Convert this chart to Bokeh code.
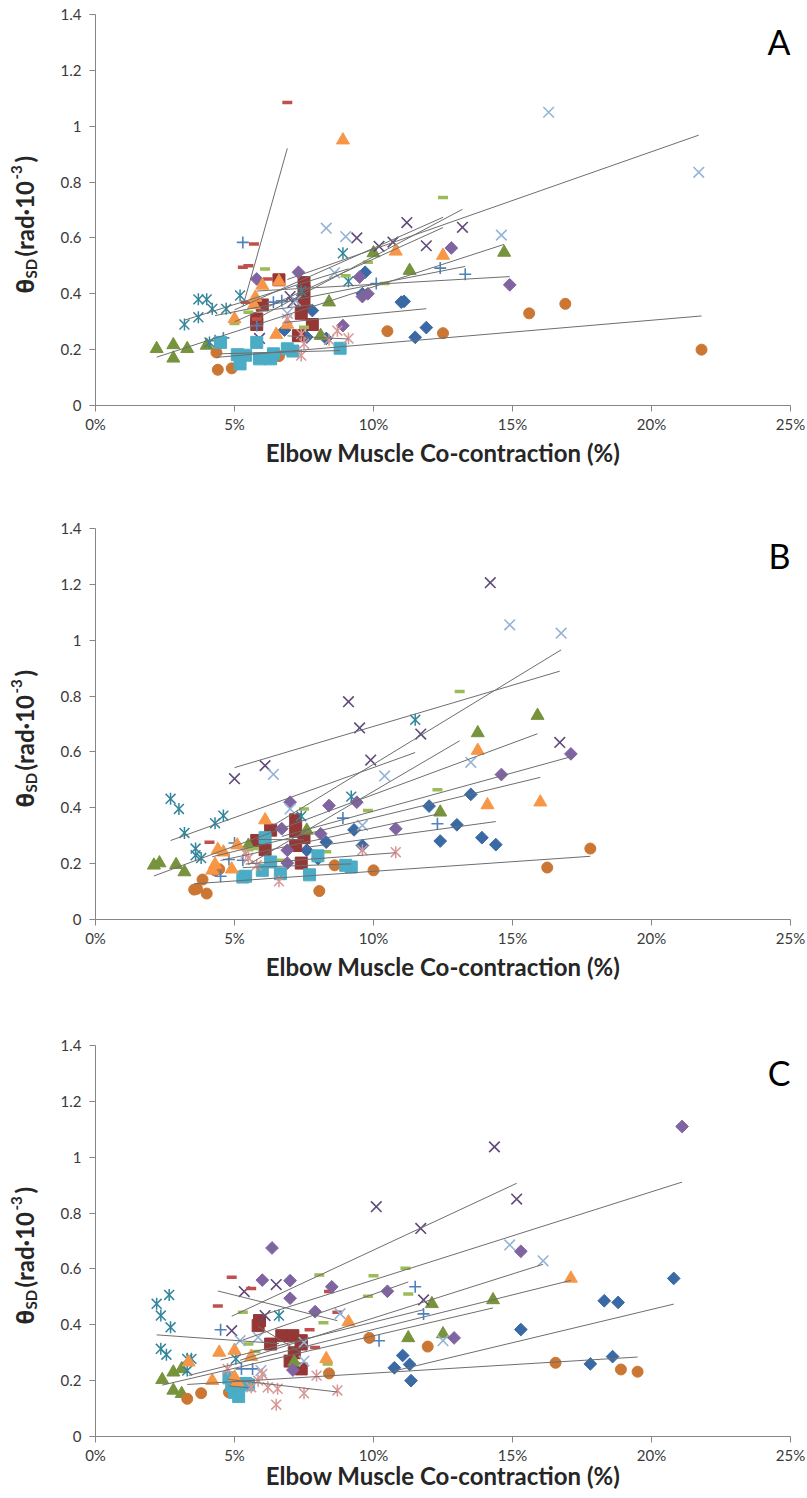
import numpy as np
from bokeh.plotting import figure
from bokeh.models import Label, Range1d, FixedTicker, PrintfTickFormatter, NumeralTickFormatter
from bokeh.core.properties import value
from bokeh.layouts import column, row
from bokeh.embed import file_html
from bokeh.resources import INLINE

# ---------------- DATA (x: co-contraction %, y: theta_SD rad*10^-3) ----------------
# Panel A
A1_x = [6.8, 7.6, 7.8, 8.3, 9.6, 9.7, 11.0, 11.1, 11.5, 11.9]
A1_y = [0.27, 0.245, 0.34, 0.24, 0.40, 0.477, 0.37, 0.373, 0.244, 0.279]
A2_x = [5.8, 5.8, 6.0, 6.6, 7.3, 7.4, 7.5, 7.5, 7.5, 7.8]
A2_y = [0.29, 0.31, 0.36, 0.45, 0.25, 0.33, 0.44, 0.41, 0.37, 0.29]
A3_x = [2.2, 2.8, 2.8, 3.3, 4.0, 8.1, 8.4, 10.0, 11.3, 14.7]
A3_y = [0.203, 0.217, 0.169, 0.203, 0.215, 0.25, 0.37, 0.546, 0.483, 0.548]
A4_x = [5.9, 7.0, 7.1, 9.4, 10.2, 10.7, 11.2, 11.9, 13.2]
A4_y = [0.24, 0.39, 0.37, 0.60, 0.57, 0.585, 0.655, 0.572, 0.638]
A5_x = [3.2, 3.7, 3.7, 4.0, 4.1, 4.2, 4.7, 5.2, 7.4, 8.9, 9.1]
A5_y = [0.29, 0.316, 0.38, 0.38, 0.226, 0.346, 0.346, 0.394, 0.41, 0.545, 0.445]
A6_x = [4.35, 4.4, 4.9, 6.6, 10.5, 12.5, 15.6, 16.9, 21.8]
A6_y = [0.19, 0.128, 0.133, 0.177, 0.266, 0.259, 0.33, 0.364, 0.20]
A7_x = [4.3, 4.6, 5.3, 5.8, 6.4, 6.7, 10.1, 12.4, 13.3]
A7_y = [0.232, 0.242, 0.584, 0.286, 0.37, 0.375, 0.437, 0.492, 0.47]
A8_x = [5.3, 5.4, 5.5, 5.7, 5.8, 6.2, 6.9]
A8_y = [0.495, 0.37, 0.50, 0.578, 0.31, 0.453, 1.085]
A9_x = [5.0, 5.5, 6.1, 7.5, 9.0, 9.8, 10.4, 12.5]
A9_y = [0.294, 0.334, 0.489, 0.28, 0.465, 0.513, 0.437, 0.745]
A10_x = [5.8, 7.3, 8.9, 9.5, 9.6, 9.8, 12.8, 14.9]
A10_y = [0.453, 0.477, 0.286, 0.46, 0.39, 0.40, 0.564, 0.432]
A11_x = [4.5, 5.1, 5.2, 5.4, 5.8, 5.9, 6.3, 6.4, 6.9, 7.1, 8.8]
A11_y = [0.226, 0.182, 0.149, 0.18, 0.226, 0.167, 0.167, 0.185, 0.203, 0.195, 0.205]
A12_x = [5.0, 5.7, 5.75, 6.0, 6.5, 6.6, 6.9, 8.9, 10.8, 12.5]
A12_y = [0.31, 0.36, 0.387, 0.43, 0.254, 0.444, 0.29, 0.95, 0.552, 0.537]
A13_x = [6.9, 7.2, 8.3, 8.6, 9.0, 14.6, 16.3, 21.7]
A13_y = [0.33, 0.375, 0.635, 0.475, 0.605, 0.61, 1.05, 0.835]
A14_x = [6.9, 7.4, 7.4, 7.5, 8.4, 8.7, 9.1]
A14_y = [0.31, 0.256, 0.179, 0.221, 0.235, 0.268, 0.24]

# Panel B
B1_x = [7.6, 8.0, 8.3, 9.3, 9.6, 12.0, 12.4, 13.0, 13.5, 13.9, 14.4]
B1_y = [0.248, 0.218, 0.277, 0.321, 0.265, 0.406, 0.281, 0.339, 0.448, 0.293, 0.268]
B2_x = [5.8, 6.1, 6.3, 7.2, 7.2, 7.2, 7.4, 7.5]
B2_y = [0.283, 0.25, 0.32, 0.357, 0.316, 0.265, 0.202, 0.293]
B3_x = [2.1, 2.3, 2.9, 3.2, 5.5, 7.6, 12.4, 13.75, 15.9]
B3_y = [0.194, 0.202, 0.196, 0.17, 0.265, 0.319, 0.384, 0.668, 0.73]
B4_x = [5.0, 6.1, 9.1, 9.5, 9.9, 11.7, 14.2, 16.7]
B4_y = [0.504, 0.551, 0.78, 0.686, 0.571, 0.664, 1.206, 0.634]
B5_x = [2.7, 3.0, 3.2, 3.6, 3.6, 3.8, 4.3, 4.6, 7.4, 9.2, 11.5]
B5_y = [0.432, 0.396, 0.31, 0.254, 0.23, 0.22, 0.345, 0.372, 0.37, 0.44, 0.715]
B6_x = [3.55, 3.65, 3.85, 4.0, 4.3, 4.45, 8.05, 8.6, 10.0, 16.25, 17.8]
B6_y = [0.107, 0.11, 0.143, 0.093, 0.176, 0.18, 0.102, 0.194, 0.176, 0.186, 0.254]
B7_x = [4.5, 4.8, 5.0, 5.3, 8.9, 12.3]
B7_y = [0.155, 0.215, 0.274, 0.212, 0.363, 0.343]
B8_x = [4.1]
B8_y = [0.277]
B9_x = [5.5, 5.7, 6.7, 7.5, 8.3, 9.8, 12.3, 13.1]
B9_y = [0.25, 0.254, 0.212, 0.396, 0.243, 0.39, 0.465, 0.816]
B10_x = [6.7, 6.9, 6.9, 7.0, 8.1, 8.4, 9.4, 10.8, 14.6, 17.1]
B10_y = [0.325, 0.248, 0.202, 0.42, 0.307, 0.408, 0.42, 0.325, 0.519, 0.593]
B11_x = [5.3, 5.4, 6.0, 6.1, 6.3, 6.65, 7.7, 8.0, 9.0, 9.2]
B11_y = [0.152, 0.155, 0.176, 0.293, 0.206, 0.164, 0.16, 0.228, 0.194, 0.188]
B12_x = [4.2, 4.3, 4.4, 4.6, 4.9, 5.1, 6.1, 13.75, 14.1, 16.0]
B12_y = [0.176, 0.197, 0.25, 0.241, 0.18, 0.266, 0.356, 0.605, 0.41, 0.42]
B13_x = [6.4, 7.0, 9.6, 10.4, 13.5, 14.9, 16.75]
B13_y = [0.52, 0.396, 0.337, 0.514, 0.563, 1.055, 1.025]
B14_x = [5.4, 5.5, 5.8, 6.6, 9.6, 10.8]
B14_y = [0.236, 0.22, 0.194, 0.137, 0.248, 0.241]

# Panel C
C1_x = [10.75, 11.05, 11.3, 11.35, 15.3, 17.8, 18.3, 18.6, 18.8, 20.8]
C1_y = [0.246, 0.29, 0.258, 0.2, 0.383, 0.26, 0.486, 0.286, 0.48, 0.566]
C2_x = [5.85, 5.9, 6.3, 6.7, 7.0, 7.1, 7.15, 7.4, 7.4, 7.4]
C2_y = [0.397, 0.415, 0.331, 0.361, 0.27, 0.361, 0.30, 0.343, 0.331, 0.242]
C3_x = [2.4, 2.8, 2.8, 3.1, 3.1, 7.15, 11.25, 12.1, 12.5, 14.3]
C3_y = [0.203, 0.23, 0.165, 0.153, 0.242, 0.266, 0.353, 0.475, 0.367, 0.489]
C4_x = [4.9, 5.35, 6.1, 6.5, 10.1, 11.7, 11.8, 14.35, 15.15]
C4_y = [0.379, 0.519, 0.433, 0.544, 0.823, 0.745, 0.489, 1.037, 0.85]
C5_x = [2.2, 2.35, 2.35, 2.55, 2.65, 2.7, 3.3, 3.3, 3.45, 5.05, 6.6]
C5_y = [0.475, 0.433, 0.314, 0.293, 0.507, 0.391, 0.278, 0.236, 0.278, 0.278, 0.433]
C6_x = [3.3, 3.8, 4.8, 8.4, 9.85, 11.95, 16.55, 18.9, 19.5]
C6_y = [0.135, 0.155, 0.158, 0.226, 0.353, 0.322, 0.264, 0.24, 0.232]
C7_x = [4.5, 5.25, 5.65, 10.2, 11.5, 11.8]
C7_y = [0.382, 0.242, 0.242, 0.343, 0.536, 0.439]
C8_x = [4.4, 4.9, 5.6, 7.7, 7.9, 8.4, 8.7]
C8_y = [0.467, 0.57, 0.53, 0.382, 0.319, 0.519, 0.445]
C9_x = [5.3, 5.5, 5.75, 8.05, 8.2, 8.35, 9.8, 10.0, 11.15, 11.25]
C9_y = [0.445, 0.331, 0.304, 0.578, 0.407, 0.26, 0.502, 0.576, 0.602, 0.51]
C10_x = [6.0, 6.35, 7.0, 7.0, 7.1, 7.9, 8.5, 10.5, 12.9, 15.3, 21.1]
C10_y = [0.56, 0.675, 0.558, 0.495, 0.238, 0.447, 0.536, 0.52, 0.353, 0.663, 1.11]
C11_x = [4.8, 4.9, 5.0, 5.15, 5.4, 5.5]
C11_y = [0.21, 0.182, 0.158, 0.143, 0.19, 0.185]
C12_x = [3.35, 4.2, 4.45, 5.0, 5.0, 5.1, 5.6, 8.3, 9.1, 17.1]
C12_y = [0.266, 0.2, 0.301, 0.308, 0.212, 0.194, 0.286, 0.278, 0.41, 0.566]
C13_x = [5.2, 5.85, 5.95, 7.5, 7.5, 8.8, 12.5, 14.9, 16.1]
C13_y = [0.343, 0.355, 0.236, 0.337, 0.27, 0.44, 0.343, 0.686, 0.629]
C14_x = [4.75, 5.6, 5.85, 6.0, 6.2, 6.5, 6.55, 7.5, 7.95, 8.7]
C14_y = [0.242, 0.176, 0.2, 0.224, 0.176, 0.114, 0.171, 0.155, 0.218, 0.165]

X_TICKS = [0, 5, 10, 15, 20, 25]
Y_TICKS = [0, 0.2, 0.4, 0.6, 0.8, 1.0, 1.2, 1.4]
PANEL_LETTERS = ["A", "B", "C"]
X_TITLE = "Elbow Muscle Co-contraction (%)"
Y_TITLE_PARTS = ["θ", "SD", "(rad·10", "-3", ")"]

PANELS = [
    [(A1_x, A1_y), (A2_x, A2_y), (A3_x, A3_y), (A4_x, A4_y), (A5_x, A5_y), (A6_x, A6_y), (A7_x, A7_y),
     (A8_x, A8_y), (A9_x, A9_y), (A10_x, A10_y), (A11_x, A11_y), (A12_x, A12_y), (A13_x, A13_y), (A14_x, A14_y)],
    [(B1_x, B1_y), (B2_x, B2_y), (B3_x, B3_y), (B4_x, B4_y), (B5_x, B5_y), (B6_x, B6_y), (B7_x, B7_y),
     (B8_x, B8_y), (B9_x, B9_y), (B10_x, B10_y), (B11_x, B11_y), (B12_x, B12_y), (B13_x, B13_y), (B14_x, B14_y)],
    [(C1_x, C1_y), (C2_x, C2_y), (C3_x, C3_y), (C4_x, C4_y), (C5_x, C5_y), (C6_x, C6_y), (C7_x, C7_y),
     (C8_x, C8_y), (C9_x, C9_y), (C10_x, C10_y), (C11_x, C11_y), (C12_x, C12_y), (C13_x, C13_y), (C14_x, C14_y)],
]

# ---------------- STYLES ----------------
STYLES = [
    dict(kind="diamond", color="#3A6AA5"),
    dict(kind="square", color="#953735"),
    dict(kind="triangle", color="#77933C"),
    dict(kind="x", color="#604A7B"),
    dict(kind="star", color="#31859C"),
    dict(kind="circle", color="#CB7733"),
    dict(kind="plus", color="#4F81BD"),
    dict(kind="dash", color="#C0504D"),
    dict(kind="dash", color="#9BBB59"),
    dict(kind="diamond", color="#8064A2"),
    dict(kind="square", color="#4BACC6"),
    dict(kind="triangle", color="#F79646"),
    dict(kind="x", color="#95B3D7"),
    dict(kind="star", color="#D99694"),
]

FW, FH = 695, 391
LABW = 50            # width of the strip that carries the rotated y title
LEFT, RIGHT = 45, 17
BORDERS = [(14, 109), (14, 112), (14, 62)]
TITLE_STANDOFF = [2, 2, -6]
X_MAX, Y_MAX = 25, 1.4


def draw_series(p, xs, ys, st):
    c = st["color"]
    k = st["kind"]
    if k == "diamond":
        p.scatter(xs, ys, marker="square", angle=np.pi / 4, size=9, fill_color=c, line_color=c)
    elif k == "square":
        p.scatter(xs, ys, marker="square", size=12, fill_color=c, line_color=c)
    elif k == "triangle":
        p.scatter(xs, ys, marker="triangle", size=13, fill_color=c, line_color=c)
    elif k == "circle":
        p.scatter(xs, ys, marker="circle", size=11, fill_color=c, line_color=c)
    elif k == "x":
        p.scatter(xs, ys, marker="x", size=15, line_color=c, line_width=1.6)
    elif k == "plus":
        p.scatter(xs, ys, marker="cross", size=12, line_color=c, line_width=1.6)
    elif k == "star":
        p.scatter(xs, ys, marker="x", size=14, line_color=c, line_width=1.5)
        p.scatter(xs, ys, marker="dash", angle=np.pi / 2, size=12, line_color=c, line_width=1.5)
    elif k == "dash":
        p.scatter(xs, ys, marker="dash", size=10, line_color=c, line_width=3.5)


rows = []
for i, series in enumerate(PANELS):
    top, bottom = BORDERS[i]

    # --- strip with rotated y-axis title; y coordinates = pixels above the frame bottom ---
    lab = figure(frame_width=LABW, frame_height=FH, min_border_left=0, min_border_right=0,
                 min_border_top=top, min_border_bottom=bottom,
                 x_range=Range1d(0, LABW), y_range=Range1d(0, FH),
                 x_axis_type=None, y_axis_type=None, output_backend="svg", toolbar_location=None)
    lab.outline_line_color = None
    lab.grid.visible = False
    # (text, x-centre px, start height above frame bottom px, size, font)
    parts = [
        (Y_TITLE_PARTS[0], 24, 112, "24px", "Noto Sans"),
        (Y_TITLE_PARTS[1], 30, 127, "15px", "Lato"),
        (Y_TITLE_PARTS[2], 24, 149, "24px", "Lato"),
        (Y_TITLE_PARTS[3], 15.5, 226, "15px", "Lato"),
        (Y_TITLE_PARTS[4], 24, 243, "24px", "Lato"),
    ]
    for txt, cx, oy, fs, fnt in parts:
        lab.text(x=[cx], y=[oy], text=[txt], angle=np.pi / 2,
                 text_align="left", text_baseline="middle",
                 text_font=value(fnt), text_font_style="bold", text_font_size=value(fs),
                 text_color="#262626")

    # --- main scatter plot ---
    p = figure(frame_width=FW, frame_height=FH, min_border_left=LEFT, min_border_right=RIGHT,
               min_border_top=top, min_border_bottom=bottom,
               x_range=Range1d(0, X_MAX), y_range=Range1d(0, Y_MAX),
               output_backend="svg", toolbar_location=None)
    p.outline_line_color = None
    p.grid.visible = False
    p.background_fill_color = "white"
    p.border_fill_color = "white"

    for ax in (p.xaxis[0], p.yaxis[0]):
        ax.axis_line_color = "#868686"
        ax.major_tick_line_color = "#868686"
        ax.minor_tick_line_color = None
        ax.major_tick_out = 6
        ax.major_tick_in = 0
        ax.major_label_text_font = "Lato"
        ax.major_label_text_font_size = "15px"
        ax.major_label_text_color = "#3a3a3a"
    p.xaxis.major_label_standoff = 3
    p.yaxis.major_label_standoff = 8
    p.xaxis.ticker = FixedTicker(ticks=X_TICKS)
    p.xaxis.formatter = PrintfTickFormatter(format="%d%%")
    p.yaxis.ticker = FixedTicker(ticks=Y_TICKS)
    p.yaxis.formatter = NumeralTickFormatter(format="0.[0]")
    p.xaxis.axis_label = X_TITLE
    p.xaxis.axis_label_text_font = "Lato"
    p.xaxis.axis_label_text_font_style = "bold"
    p.xaxis.axis_label_text_font_size = "24px"
    p.xaxis.axis_label_text_color = "#262626"
    p.xaxis.axis_label_standoff = TITLE_STANDOFF[i]

    for (xs, ys), st in zip(series, STYLES):
        draw_series(p, xs, ys, st)

    for (xs, ys), st in zip(series, STYLES):
        if len(xs) >= 3:
            m, b = np.polyfit(xs, ys, 1)
            x0, x1 = min(xs), max(xs)
            p.line([x0, x1], [m * x0 + b, m * x1 + b], line_color="#6e6e6e", line_width=1)

    p.add_layout(Label(x=X_MAX, y=Y_MAX - 6 / FH * Y_MAX, text=PANEL_LETTERS[i],
                       text_align="right", text_baseline="top",
                       text_font="Lato", text_font_size="34px", text_color="black"))
    rows.append(row(lab, p, spacing=0))

layout = column(*rows, spacing=0)
open("out.html", "w").write(file_html(layout, INLINE))
